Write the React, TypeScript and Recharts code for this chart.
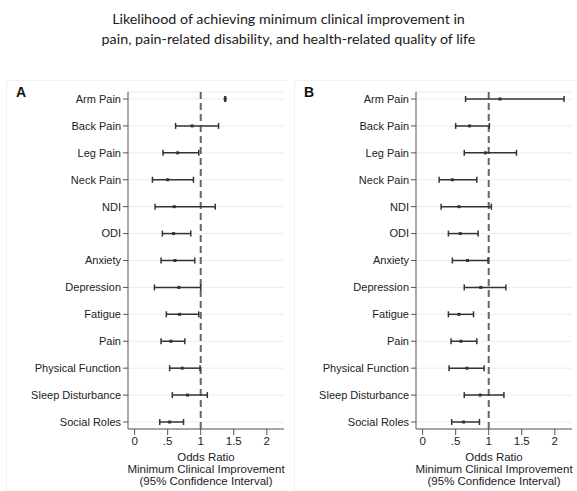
import React from "react";
import {
  CartesianGrid,
  ComposedChart,
  ErrorBar,
  ReferenceLine,
  Scatter,
  XAxis,
  YAxis,
} from "recharts";

const outcomes = [
  "Arm Pain",
  "Back Pain",
  "Leg Pain",
  "Neck Pain",
  "NDI",
  "ODI",
  "Anxiety",
  "Depression",
  "Fatigue",
  "Pain",
  "Physical Function",
  "Sleep Disturbance",
  "Social Roles",
];

// panel A: odds ratio, lower and upper CI
const orA = [1.37, 0.87, 0.65, 0.5, 0.6, 0.59, 0.61, 0.67, 0.68, 0.55, 0.72, 0.8, 0.53];
const loA = [1.365, 0.62, 0.43, 0.27, 0.31, 0.42, 0.4, 0.3, 0.48, 0.4, 0.53, 0.57, 0.38];
const hiA = [1.375, 1.27, 0.97, 0.89, 1.22, 0.85, 0.91, 1.0, 0.97, 0.76, 0.99, 1.1, 0.74];

// panel B
const orB = [1.17, 0.71, 0.95, 0.45, 0.55, 0.57, 0.68, 0.88, 0.55, 0.58, 0.67, 0.87, 0.62];
const loB = [0.65, 0.5, 0.63, 0.25, 0.28, 0.39, 0.45, 0.63, 0.39, 0.43, 0.4, 0.63, 0.44];
const hiB = [2.14, 1.01, 1.42, 0.82, 1.04, 0.84, 0.99, 1.26, 0.77, 0.82, 0.93, 1.23, 0.86];

const xTicks = [0, 0.5, 1, 1.5, 2];
const xTickLabels = ["0", ".5", "1", "1.5", "2"];

const FONT = "'Liberation Sans', Arial, sans-serif";

function buildRows(or: number[], lo: number[], hi: number[]) {
  return outcomes.map((name, i) => ({
    name,
    row: i + 1,
    or: or[i],
    err: [or[i] - lo[i], hi[i] - or[i]],
  }));
}

const Marker = (props: any) => {
  const { cx, cy } = props;
  if (cx == null || cy == null) return null;
  return <rect x={cx - 1.5} y={cy - 1.5} width={3} height={3} fill="#333" />;
};

const AxisTitle = (props: any) => {
  const vb = props.viewBox || {};
  const cx = vb.x + vb.width / 2;
  const y = vb.y;
  return (
    <text x={cx} textAnchor="middle" fontFamily={FONT} fontSize={11.5} fill="#222">
      <tspan x={cx} y={y + 32}>Odds Ratio</tspan>
      <tspan x={cx} y={y + 44}>Minimum Clinical Improvement</tspan>
      <tspan x={cx} y={y + 56}>(95% Confidence Interval)</tspan>
    </text>
  );
};

function Panel({ letter, data, left }: { letter: string; data: any[]; left: number }) {
  return (
    <div style={{ position: "absolute", left, top: 80, width: 287, height: 411 }}>
      <div
        style={{
          position: "absolute",
          left: 6,
          top: 0,
          width: 280,
          height: 411,
          borderLeft: "1px solid #f0f0f0",
          borderTop: "1px solid #f0f0f0",
        }}
      />
      <div
        style={{
          position: "absolute",
          left: 16,
          top: 4,
          fontFamily: FONT,
          fontWeight: "bold",
          fontSize: 14,
          color: "#111",
        }}
      >
        {letter}
      </div>
      <ComposedChart
        width={287}
        height={411}
        layout="vertical"
        data={data}
        margin={{ top: 12, right: 3, bottom: 0, left: 0 }}
        style={{ position: "absolute", left: 0, top: 0 }}
      >
        <CartesianGrid horizontal vertical={false} stroke="#ececec" strokeWidth={1} />
        <XAxis
          type="number"
          dataKey="or"
          domain={[-0.1, 2.26]}
          ticks={xTicks}
          tickFormatter={(v: number) => xTickLabels[xTicks.indexOf(v)] ?? String(v)}
          allowDataOverflow
          height={62}
          stroke="#555"
          tickLine={{ stroke: "#555" }}
          tick={{ fontFamily: FONT, fontSize: 11.5, fill: "#222" }}
          label={<AxisTitle />}
        />
        <YAxis
          type="number"
          dataKey="row"
          domain={[0.74, 13.26]}
          ticks={outcomes.map((_, i) => i + 1)}
          tickFormatter={(v: number) => outcomes[v - 1] ?? ""}
          interval={0}
          allowDataOverflow
          width={128}
          stroke="#555"
          tickLine={{ stroke: "#555" }}
          tickSize={5}
          tick={{ fontFamily: FONT, fontSize: 11, fill: "#222" }}
        />
        <ReferenceLine x={1} stroke="#666" strokeWidth={2} strokeDasharray="7 4" />
        <Scatter dataKey="or" shape={<Marker />} isAnimationActive={false}>
          <ErrorBar dataKey="err" direction="x" width={3} stroke="#333" strokeWidth={1.5} />
        </Scatter>
      </ComposedChart>
    </div>
  );
}

export default function App() {
  const dataA = buildRows(orA, loA, hiA);
  const dataB = buildRows(orB, loB, hiB);
  return (
    <div
      style={{
        position: "fixed",
        left: 0,
        top: 0,
        width: 577,
        height: 491,
        background: "#fff",
        overflow: "hidden",
      }}
    >
      <div
        style={{
          position: "absolute",
          left: 0,
          top: 9,
          width: 577,
          textAlign: "center",
          fontFamily: "Lato, 'Open Sans', sans-serif",
          fontSize: 14.3,
          lineHeight: "20px",
          color: "#1a1a1a",
        }}
      >
        Likelihood of achieving minimum clinical improvement in
        <br />
        pain, pain-related disability, and health-related quality of life
      </div>
      <Panel letter="A" data={dataA} left={0} />
      <Panel letter="B" data={dataB} left={288} />
    </div>
  );
}
